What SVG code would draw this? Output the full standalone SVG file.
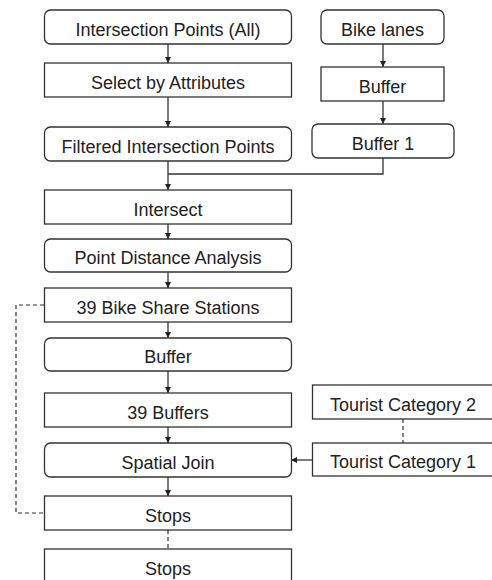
<svg xmlns="http://www.w3.org/2000/svg" width="492" height="580" viewBox="0 0 492 580">
  <defs>
    <marker id="arrow" markerWidth="6" markerHeight="6" refX="6" refY="3" orient="auto" markerUnits="userSpaceOnUse">
      <path d="M0,0 L6,3 L0,6 Z" fill="#222"/>
    </marker>
    <style>
      .box { fill: #fff; stroke: #333; stroke-width: 1.3; }
      .lbl { font-family: "Liberation Sans", Arial, sans-serif; font-size: 18px; fill: #222; text-anchor: middle; }
      .link { fill: none; stroke: #333; stroke-width: 1.3; }
      .dash { fill: none; stroke: #333; stroke-width: 1.2; stroke-dasharray: 4 3; }
    </style>
  </defs>
  <rect width="492" height="580" fill="#fff"/>

  <!-- connectors -->
  <g id="connectors">
    <line class="link" x1="168" y1="44" x2="168" y2="63" marker-end="url(#arrow)"/>
    <line class="link" x1="168" y1="97" x2="168" y2="127" marker-end="url(#arrow)"/>
    <line class="link" x1="168" y1="161" x2="168" y2="190" marker-end="url(#arrow)"/>
    <polyline class="link" points="383,158 383,174 168,174"/>
    <line class="link" x1="383" y1="44" x2="383" y2="67" marker-end="url(#arrow)"/>
    <line class="link" x1="383" y1="101" x2="383" y2="124" marker-end="url(#arrow)"/>
    <line class="link" x1="168" y1="224" x2="168" y2="239" marker-end="url(#arrow)"/>
    <line class="link" x1="168" y1="272" x2="168" y2="288" marker-end="url(#arrow)"/>
    <line class="link" x1="168" y1="322" x2="168" y2="338" marker-end="url(#arrow)"/>
    <line class="link" x1="168" y1="371" x2="168" y2="393" marker-end="url(#arrow)"/>
    <line class="link" x1="168" y1="427" x2="168" y2="443" marker-end="url(#arrow)"/>
    <line class="link" x1="168" y1="477" x2="168" y2="496" marker-end="url(#arrow)"/>
    <line class="link" x1="312" y1="460" x2="291" y2="460" marker-end="url(#arrow)"/>
    <line class="dash" x1="403" y1="419" x2="403" y2="443"/>
    <line class="dash" x1="168" y1="530" x2="168" y2="549"/>
    <polyline class="dash" points="44,305 16,305 16,513 44,513"/>
  </g>

  <!-- left column -->
  <g id="intersection-points-all">
    <rect class="box" x="44.5" y="10" width="247" height="34" rx="6"/>
    <text class="lbl" x="168" y="35.5">Intersection Points (All)</text>
  </g>
  <g id="select-by-attributes">
    <rect class="box" x="44.5" y="63" width="247" height="34"/>
    <text class="lbl" x="168" y="88.5">Select by Attributes</text>
  </g>
  <g id="filtered-intersection-points">
    <rect class="box" x="44.5" y="127" width="247" height="34" rx="6"/>
    <text class="lbl" x="168" y="152.5">Filtered Intersection Points</text>
  </g>
  <g id="intersect">
    <rect class="box" x="44.5" y="190" width="247" height="34"/>
    <text class="lbl" x="168" y="215.5">Intersect</text>
  </g>
  <g id="point-distance-analysis">
    <rect class="box" x="44.5" y="239" width="247" height="33" rx="6"/>
    <text class="lbl" x="168" y="264">Point Distance Analysis</text>
  </g>
  <g id="bike-share-stations">
    <rect class="box" x="44.5" y="288" width="247" height="34"/>
    <text class="lbl" x="168" y="313.5">39 Bike Share Stations</text>
  </g>
  <g id="buffer-stations">
    <rect class="box" x="44.5" y="338" width="247" height="33" rx="6"/>
    <text class="lbl" x="168" y="363">Buffer</text>
  </g>
  <g id="buffers-39">
    <rect class="box" x="44.5" y="393" width="247" height="34"/>
    <text class="lbl" x="168" y="418.5">39 Buffers</text>
  </g>
  <g id="spatial-join">
    <rect class="box" x="44.5" y="443" width="247" height="34" rx="6"/>
    <text class="lbl" x="168" y="468.5">Spatial Join</text>
  </g>
  <g id="stops">
    <rect class="box" x="44.5" y="496" width="247" height="34"/>
    <text class="lbl" x="168" y="521.5">Stops</text>
  </g>
  <g id="stops-output">
    <rect class="box" x="44.5" y="549" width="247" height="34"/>
    <text class="lbl" x="168" y="574.5">Stops</text>
  </g>

  <!-- right column -->
  <g id="bike-lanes">
    <rect class="box" x="321" y="10" width="123" height="34" rx="6"/>
    <text class="lbl" x="382.5" y="35.5">Bike lanes</text>
  </g>
  <g id="buffer-lanes">
    <rect class="box" x="321" y="67" width="123" height="34"/>
    <text class="lbl" x="382.5" y="92.5">Buffer</text>
  </g>
  <g id="buffer-1">
    <rect class="box" x="312" y="124" width="142" height="34" rx="6"/>
    <text class="lbl" x="383" y="149.5">Buffer 1</text>
  </g>
  <g id="tourist-category-2">
    <rect class="box" x="312.5" y="385" width="182" height="34"/>
    <text class="lbl" x="403" y="410.5">Tourist Category 2</text>
  </g>
  <g id="tourist-category-1">
    <rect class="box" x="312.5" y="443" width="182" height="33"/>
    <text class="lbl" x="403" y="468">Tourist Category 1</text>
  </g>
</svg>
